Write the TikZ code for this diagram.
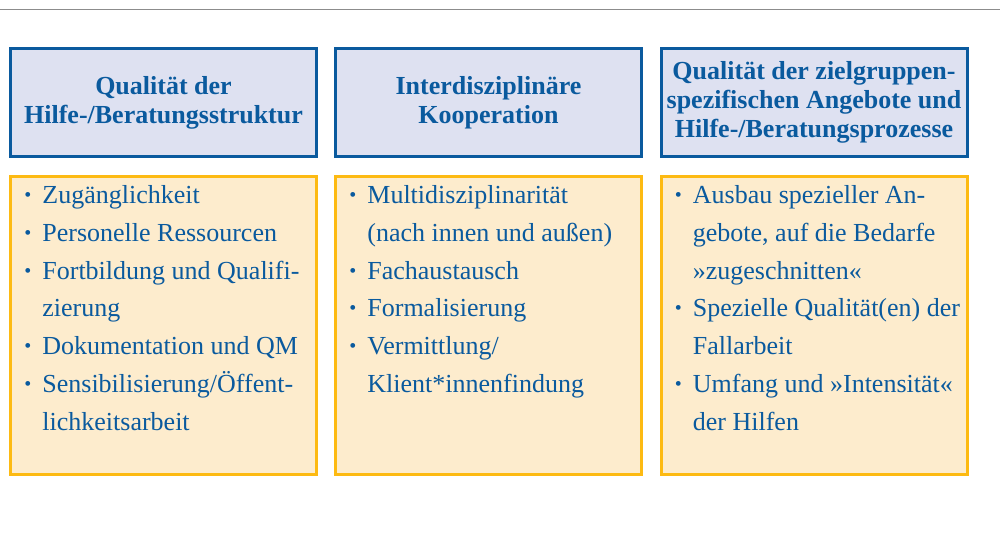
\documentclass[tikz,border=0pt]{standalone}
\usepackage{fontspec}
\setmainfont{Liberation Serif}
\usepackage{tikz}
\usetikzlibrary{positioning}

\definecolor{headblue}{HTML}{0A5A9E}
\definecolor{headfill}{HTML}{DEE1F1}
\definecolor{listorange}{HTML}{FDBA12}
\definecolor{listfill}{HTML}{FDECCD}
\definecolor{rulegray}{HTML}{8C8C8C}
\newcommand{\listdot}{\llap{\raisebox{1pt}{\fontsize{10pt}{10pt}\selectfont\textbullet}\hspace{5.5pt}}}

\begin{document}
\begin{tikzpicture}[x=0.5pt,y=-0.5pt]
\tikzstyle{headbox}=[draw=headblue,fill=headfill,line width=1.5pt,minimum width=153pt,minimum height=54pt,inner sep=0pt,align=center,text=headblue,font=\bfseries\fontsize{13pt}{14.4pt}\selectfont]
\tikzstyle{listbox}=[draw=listorange,fill=listfill,line width=1.5pt,minimum width=153pt,minimum height=149pt]
\tikzstyle{listtext}=[anchor=north west,inner sep=0pt,align=left,text=headblue,font=\fontsize{13pt}{18.9pt}\selectfont]

\useasboundingbox (0,0) rectangle (1000,534);
\draw [rulegray,line width=0.5pt] (0,10) -- (1000,10);

\node (head1) [headbox] at (163.5,102.5) {Qualität der\\Hilfe-/Beratungsstruktur};
\node (head2) [headbox] at (488.5,102.5) {Interdisziplinäre\\Kooperation};
\node (head3) [headbox] at (814,102.5) {Qualität der zielgruppen-\\spezifischen Angebote und\\Hilfe-/Beratungsprozesse};

\node (list1) [listbox,below=8.5pt of head1] {};
\node (list2) [listbox,below=8.5pt of head2] {};
\node (list3) [listbox,below=8.5pt of head3] {};

\node (items1) [listtext] at ([shift={(33,10)}]list1.north west) {\listdot Zugänglichkeit\\
\listdot Personelle Ressourcen\\
\listdot Fortbildung und Qualifi-\\zierung\\
\listdot Dokumentation und QM\\
\listdot Sensibilisierung/Öffent-\\lichkeitsarbeit};
\node (items2) [listtext] at ([shift={(33,10)}]list2.north west) {\listdot Multidisziplinarität\\(nach innen und außen)\\
\listdot Fachaustausch\\
\listdot Formalisierung\\
\listdot Vermittlung/\\Klient*innenfindung};
\node (items3) [listtext] at ([shift={(33,10)}]list3.north west) {\listdot Ausbau spezieller An-\\gebote, auf die Bedarfe\\»zugeschnitten«\\
\listdot Spezielle Qualität(en) der\\Fallarbeit\\
\listdot Umfang und »Intensität«\\der Hilfen};
\end{tikzpicture}
\end{document}
